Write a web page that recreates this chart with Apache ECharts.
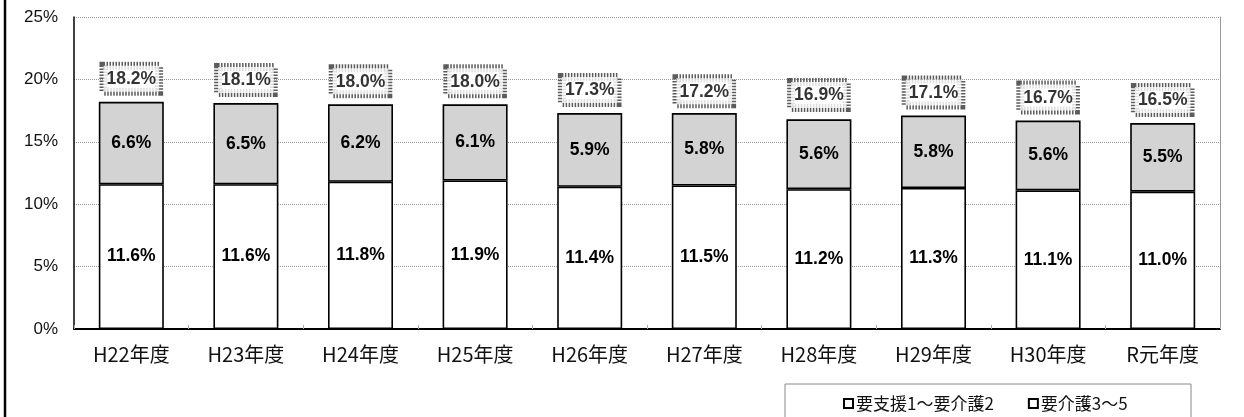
<!DOCTYPE html>
<html><head><meta charset="utf-8">
<script src="https://cdn.jsdelivr.net/npm/echarts@6/dist/echarts.min.js"></script>
<style>html,body{margin:0;padding:0;background:#fff;}#c{width:1244px;height:417px;}</style>
</head><body><div id="c"></div>
<script>
const categories = ['H22年度','H23年度','H24年度','H25年度','H26年度','H27年度','H28年度','H29年度','H30年度','R元年度'];
const lowerName = '要支援1～要介護2';
const upperName = '要介護3～5';
const lowerValues = [11.6, 11.6, 11.8, 11.9, 11.4, 11.5, 11.2, 11.3, 11.1, 11.0];
const upperValues = [6.6, 6.5, 6.2, 6.1, 5.9, 5.8, 5.6, 5.8, 5.6, 5.5];
const totalValues = [18.2, 18.1, 18.0, 18.0, 17.3, 17.2, 16.9, 17.1, 16.7, 16.5];
const yTicks = [0, 5, 10, 15, 20, 25];

const chart = echarts.init(document.getElementById('c'));
const numFont = '"Liberation Sans", Arial, sans-serif';
const jpFont = '"Noto Sans CJK JP", sans-serif';
chart.setOption({
  animation: false,
  backgroundColor: '#fff',
  grid: { left: 74, right: 24, top: 17, bottom: 88 },
  xAxis: {
    type: 'category', data: categories,
    axisLine: { lineStyle: { color: '#000', width: 2 } },
    axisTick: { show: true, inside: true, length: 4, lineStyle: { color: '#aaa' } },
    axisLabel: { color: '#111', fontSize: 20, fontFamily: jpFont, margin: 15 }
  },
  yAxis: [{
    type: 'value', min: 0, max: 25, interval: 5,
    axisLine: { show: true, lineStyle: { color: '#000', width: 1.5 } },
    axisTick: { show: false },
    axisLabel: { color: '#111', fontSize: 17, fontFamily: numFont, margin: 16,
      formatter: v => yTicks.includes(v) ? v + '%' : '' },
    splitLine: { lineStyle: { color: '#999', type: 'dotted', width: 1 } }
  }, {
    type: 'value', min: 0, max: 25, interval: 5, position: 'right',
    axisLine: { show: true, lineStyle: { color: '#999', width: 1 } },
    axisTick: { show: false }, axisLabel: { show: false }, splitLine: { show: false }
  }],
  legend: {
    left: 838, top: 390, itemGap: 34, itemWidth: 9, itemHeight: 9, icon: 'rect',
    textStyle: { color: '#111', fontSize: 17, fontFamily: jpFont, padding: [0, 0, 0, -2] },
    data: [
      { name: lowerName, itemStyle: { color: '#fff', borderColor: '#000', borderWidth: 2 } },
      { name: upperName, itemStyle: { color: '#fff', borderColor: '#000', borderWidth: 2 } }
    ]
  },
  graphic: [
    { type: 'line', shape: { x1: 5, y1: 0, x2: 5, y2: 417 }, style: { stroke: '#000', lineWidth: 2.5 } },
    { type: 'rect', shape: { x: 785, y: 384, width: 406, height: 60 }, style: { fill: 'none', stroke: '#888', lineWidth: 1 }, z: -1 }
  ],
  series: [
    {
      name: lowerName, type: 'bar', stack: 'a', data: lowerValues, barWidth: 65,
      itemStyle: { color: '#fff', borderColor: '#000', borderWidth: 1.6 },
      label: { show: true, position: 'inside', color: '#000', fontSize: 17.5, fontWeight: 'bold', fontFamily: numFont,
        formatter: p => p.value.toFixed(1) + '%' }
    },
    {
      name: upperName, type: 'bar', stack: 'a', data: upperValues, barWidth: 65,
      itemStyle: { color: '#d3d3d3', borderColor: '#000', borderWidth: 1.6 },
      label: { show: true, position: 'inside', color: '#000', fontSize: 17.5, fontWeight: 'bold', fontFamily: numFont,
        formatter: p => p.value.toFixed(1) + '%' }
    },
    {
      name: 'total', type: 'scatter', data: totalValues, symbolSize: 0, silent: true,
      label: { show: true, position: 'top', distance: 10, color: '#000', fontSize: 17.5, fontWeight: 'bold', fontFamily: numFont,
        lineHeight: 21,
        backgroundColor: '#fff', borderColor: '#333', borderWidth: 4, borderType: [1.5, 1.5], padding: [3, 3, 2, 3],
        formatter: p => p.value.toFixed(1) + '%' }
    }
  ]
});
</script></body></html>
